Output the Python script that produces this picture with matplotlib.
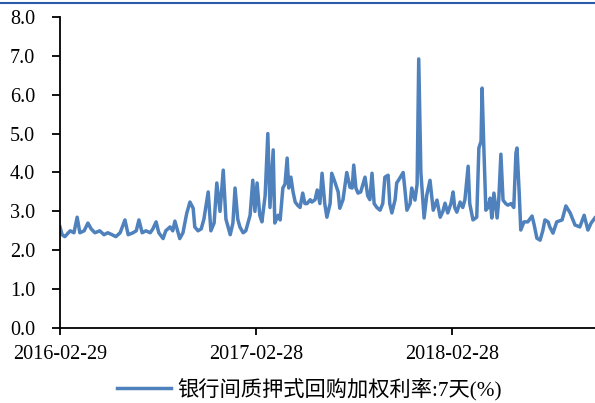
import matplotlib
matplotlib.use("Agg")
import matplotlib.pyplot as plt
import pandas as pd
from matplotlib.lines import Line2D

# days since 2016-02-29 and the 7-day weighted repo rate
day_offsets = [
    0, 4, 9, 19, 26, 32, 37, 45, 52, 58, 65, 74, 82, 89, 97, 104, 112, 121, 127, 136,
    142, 147, 153, 160, 168, 173, 179, 184, 192, 197, 205, 210, 214, 220, 223, 229, 236, 242, 248, 251,
    257, 263, 268, 276, 281, 287, 292, 298, 304, 309, 317, 322, 326, 331, 335, 341, 346, 350, 354, 359,
    363, 367, 372, 376, 382, 387, 391, 397, 400, 406, 410, 415, 419, 423, 426, 430, 434, 438, 443, 447,
    452, 456, 460, 466, 469, 475, 479, 484, 488, 493, 497, 503, 506, 512, 518, 521, 527, 534, 540, 544,
    547, 551, 555, 560, 568, 573, 577, 581, 585, 590, 596, 601, 605, 611, 614, 618, 624, 627, 633, 639,
    642, 646, 652, 655, 661, 665, 668, 672, 678, 683, 689, 695, 702, 708, 713, 717, 722, 728, 732, 735,
    739, 745, 750, 754, 760, 763, 769, 776, 780, 784, 786, 789, 793, 797, 801, 804, 808, 814, 817, 821,
    825, 830, 834, 840, 845, 849, 851, 855, 858, 864, 871, 879, 883, 888, 894, 899, 903, 909, 912, 918,
    925, 935, 942, 950, 959, 968, 976, 983, 989, 996,
]
rates = [
    2.60, 2.40, 2.35, 2.50, 2.45, 2.85, 2.45, 2.50, 2.70, 2.55, 2.45, 2.50, 2.40, 2.45, 2.40, 2.35, 2.45, 2.78, 2.40, 2.45,
    2.50, 2.78, 2.45, 2.50, 2.45, 2.55, 2.73, 2.45, 2.30, 2.50, 2.60, 2.50, 2.75, 2.45, 2.30, 2.45, 2.95, 3.24, 3.08, 2.60,
    2.50, 2.55, 2.80, 3.50, 2.50, 2.70, 3.73, 3.00, 4.06, 2.80, 2.40, 2.70, 3.60, 2.80, 2.60, 2.45, 2.50, 2.70, 2.90, 3.80,
    3.00, 3.73, 2.90, 2.73, 3.40, 5.00, 3.10, 4.58, 2.70, 2.90, 2.78, 3.60, 3.70, 4.37, 3.60, 3.88, 3.50, 3.24, 3.15, 3.10,
    3.47, 3.20, 3.20, 3.30, 3.24, 3.30, 3.55, 3.20, 3.98, 3.20, 2.85, 3.20, 3.98, 3.75, 3.50, 3.08, 3.30, 4.00, 3.62, 3.60,
    4.19, 3.60, 3.47, 3.50, 3.88, 3.40, 3.30, 3.98, 3.20, 3.10, 3.03, 3.20, 3.88, 3.93, 3.20, 2.96, 3.30, 3.73, 3.86, 4.00,
    3.60, 3.03, 3.20, 3.60, 3.29, 3.70, 6.92, 4.00, 2.83, 3.42, 3.80, 3.03, 3.29, 2.85, 3.00, 3.21, 2.96, 3.20, 3.50, 3.10,
    2.98, 3.24, 3.10, 3.30, 4.16, 3.20, 2.78, 2.85, 4.63, 4.80, 6.17, 4.75, 3.03, 3.10, 3.34, 2.83, 3.47, 2.83, 3.30, 4.47,
    3.29, 3.20, 3.16, 3.20, 3.10, 4.50, 4.63, 3.50, 2.52, 2.73, 2.73, 2.88, 2.65, 2.31, 2.26, 2.50, 2.78, 2.73, 2.60, 2.44,
    2.73, 2.78, 3.14, 2.96, 2.65, 2.60, 2.90, 2.52, 2.70, 2.83,
]
start_date = "2016-02-29"
tick_dates = ["2016-02-29", "2017-02-28", "2018-02-28"]
y_ticks = [0, 1, 2, 3, 4, 5, 6, 7, 8]
series_name = "银行间质押式回购加权利率:7天(%)"

start = pd.Timestamp(start_date)
dates = start + pd.to_timedelta(day_offsets, unit="D")

plt.rcParams["font.family"] = ["Liberation Serif", "Noto Sans CJK SC", "DejaVu Sans"]

fig = plt.figure(figsize=(5.95, 4.03), dpi=100)
ax = fig.add_axes([0.1008, 0.186, 0.899, 0.772])

ax.plot(dates, rates, color="#4f81bd", linewidth=2.5, solid_joinstyle="round",
        label=series_name)

ax.set_ylim(0, 8)
ax.set_yticks(y_ticks)
ax.set_yticklabels([f"{v:.1f}" for v in y_ticks])
ax.set_xlim(start, start + pd.Timedelta(days=day_offsets[-1]))
ax.set_xticks(pd.to_datetime(tick_dates))
ax.set_xticklabels(tick_dates)

for side in ["top", "right"]:
    ax.spines[side].set_visible(False)
for side in ["left", "bottom"]:
    ax.spines[side].set_linewidth(1.3)
    ax.spines[side].set_color("black")
ax.tick_params(axis="y", direction="out", length=6, width=1.3, pad=12, labelsize=14.5)
ax.tick_params(axis="x", direction="out", length=5, width=1.3, pad=7, labelsize=14.5)

fig.legend(loc="center", bbox_to_anchor=(0.52, 0.034), frameon=False,
           fontsize=15.3, handlelength=2.5, handletextpad=0.3)

# blue rule along the top of the report frame
fig.add_artist(Line2D([0, 1], [0.993, 0.993], color="#2a5caa", linewidth=1.5,
                      transform=fig.transFigure))

fig.savefig("out.png", dpi=100)
